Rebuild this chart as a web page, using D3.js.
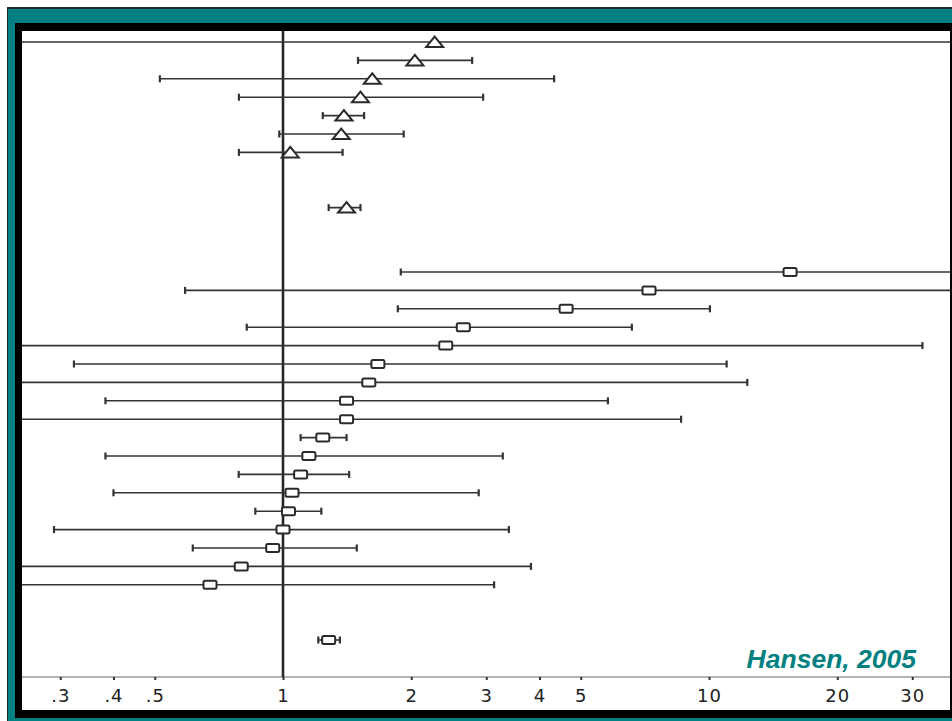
<!DOCTYPE html>
<html>
<head>
<meta charset="utf-8">
<script src="https://cdn.jsdelivr.net/npm/d3@7/dist/d3.min.js"></script>
<style>
  html, body { margin: 0; padding: 0; background: #ffffff; }
  svg { display: block; }
</style>
</head>
<body>
<svg id="chart" width="952" height="721"></svg>
<script>
// ---- Data (odds ratios with 95% CI) ----
const groupA_or = [2.27, 2.04, 1.62, 1.52, 1.39, 1.37, 1.04];
const groupA_lo = [0.20, 1.50, 0.514, 0.788, 1.24, 0.98, 0.788];
const groupA_hi = [50, 2.78, 4.33, 2.95, 1.55, 1.92, 1.38];
const pooledA = [1.41, 1.28, 1.52]; // or, lo, hi

const groupB_or = [15.5, 7.23, 4.62, 2.65, 2.41, 1.67, 1.59, 1.41, 1.41, 1.24, 1.15, 1.10, 1.05, 1.03, 1.00, 0.946, 0.798, 0.674];
const groupB_lo = [1.89, 0.589, 1.86, 0.822, 0.20, 0.323, 0.20, 0.383, 0.20, 1.10, 0.383, 0.787, 0.40, 0.861, 0.29, 0.614, 0.20, 0.20];
const groupB_hi = [50, 50, 10.05, 6.59, 31.7, 11.0, 12.3, 5.79, 8.6, 1.41, 3.28, 1.43, 2.88, 1.23, 3.39, 1.49, 3.82, 3.13];
const pooledB = [1.28, 1.21, 1.36];

const tickValues = [0.3, 0.4, 0.5, 1, 2, 3, 4, 5, 10, 20, 30];
const tickLabels = [".3", ".4", ".5", "1", "2", "3", "4", "5", "10", "20", "30"];
const creditText = "Hansen, 2005";

// ---- Layout ----
const W = 952, H = 721;
const plot = { x0: 22, y0: 31, x1: 950, y1: 710 };
const axisY = 677;
const teal = "#008080";
const ink = "#262626";

const svg = d3.select("#chart");

// Frame
svg.append("rect").attr("x", 7).attr("y", 7).attr("width", W - 7).attr("height", H - 7).attr("fill", "#1d2b2b");
svg.append("rect").attr("x", 8).attr("y", 9).attr("width", W - 8).attr("height", H - 9).attr("fill", teal);
svg.append("rect").attr("x", 15).attr("y", 23).attr("width", W - 15).attr("height", 718 - 23).attr("fill", "#000");
svg.append("rect").attr("x", plot.x0).attr("y", plot.y0).attr("width", plot.x1 - plot.x0).attr("height", plot.y1 - plot.y0).attr("fill", "#fff");

svg.append("clipPath").attr("id", "clip")
  .append("rect").attr("x", plot.x0).attr("y", plot.y0).attr("width", plot.x1 - plot.x0).attr("height", plot.y1 - plot.y0);

// Scales
const x = d3.scaleLog().domain([Math.pow(10, (plot.x0 - 283) / 426), Math.pow(10, (plot.x1 - 283) / 426)]).range([plot.x0, plot.x1]);
const y = d3.scaleLinear().domain([0, 32.5]).range([42, 640]);

// Build rows
const rowsA = groupA_or.map((v, i) => ({ or: v, lo: groupA_lo[i], hi: groupA_hi[i], row: i, shape: "tri" }));
rowsA.push({ or: pooledA[0], lo: pooledA[1], hi: pooledA[2], row: 9, shape: "tri" });
const offsetB = 12.5;
const rowsB = groupB_or.map((v, i) => ({ or: v, lo: groupB_lo[i], hi: groupB_hi[i], row: offsetB + i, shape: "sq" }));
rowsB.push({ or: pooledB[0], lo: pooledB[1], hi: pooledB[2], row: offsetB + groupB_or.length + 2, shape: "sq" });
const rows = rowsA.concat(rowsB);

const g = svg.append("g").attr("clip-path", "url(#clip)");

// Axis line
g.append("line").attr("x1", plot.x0).attr("x2", plot.x1).attr("y1", axisY).attr("y2", axisY)
  .attr("stroke", "#666").attr("stroke-width", 1.2);

// Reference line at 1
g.append("line").attr("x1", x(1)).attr("x2", x(1)).attr("y1", plot.y0).attr("y2", axisY)
  .attr("stroke", ink).attr("stroke-width", 2.6);

// CI lines
const ci = g.selectAll(".ci").data(rows).join("g").attr("class", "ci");
ci.append("line")
  .attr("x1", d => x(d.lo)).attr("x2", d => x(d.hi))
  .attr("y1", d => y(d.row)).attr("y2", d => y(d.row))
  .attr("stroke", "#333").attr("stroke-width", 1.6);
ci.append("line")
  .attr("x1", d => x(d.lo)).attr("x2", d => x(d.lo))
  .attr("y1", d => y(d.row) - 3.5).attr("y2", d => y(d.row) + 3.5)
  .attr("stroke", "#333").attr("stroke-width", 2.2);
ci.append("line")
  .attr("x1", d => x(d.hi)).attr("x2", d => x(d.hi))
  .attr("y1", d => y(d.row) - 3.5).attr("y2", d => y(d.row) + 3.5)
  .attr("stroke", "#333").attr("stroke-width", 2.2);

// Markers
g.selectAll(".tri").data(rows.filter(d => d.shape === "tri")).join("path")
  .attr("class", "tri")
  .attr("d", d => {
    const cx = x(d.or), cy = y(d.row);
    return `M${cx - 8.5},${cy + 5}L${cx + 8.5},${cy + 5}L${cx},${cy - 5.5}Z`;
  })
  .attr("fill", "#fff").attr("stroke", "#2a2a2a").attr("stroke-width", 2).attr("stroke-linejoin", "miter");

g.selectAll(".sq").data(rows.filter(d => d.shape === "sq")).join("rect")
  .attr("class", "sq")
  .attr("x", d => x(d.or) - 6.5).attr("y", d => y(d.row) - 4)
  .attr("width", 13).attr("height", 8).attr("rx", 1.5)
  .attr("fill", "#fff").attr("stroke", "#2a2a2a").attr("stroke-width", 2);

// Axis ticks and labels
const axis = d3.axisBottom(x).tickValues(tickValues)
  .tickFormat((d, i) => tickLabels[i]).tickSize(3).tickPadding(9).tickSizeOuter(0);
const ax = svg.append("g").attr("transform", `translate(0,${axisY})`).call(axis);
ax.select(".domain").remove();
ax.selectAll(".tick line").attr("stroke", "#333").attr("stroke-width", 2);
ax.selectAll(".tick text")
  .attr("fill", "#222")
  .style("font-family", "'DejaVu Sans', Arial, sans-serif")
  .style("font-size", "18px")
  .style("letter-spacing", "1px");

// Credit
svg.append("text")
  .attr("x", 916).attr("y", 668)
  .attr("text-anchor", "end")
  .attr("fill", teal)
  .style("font-family", "'Liberation Sans', Arial, sans-serif")
  .style("font-weight", "bold")
  .style("font-style", "italic")
  .style("font-size", "26.5px")
  .text(creditText);
</script>
</body>
</html>
